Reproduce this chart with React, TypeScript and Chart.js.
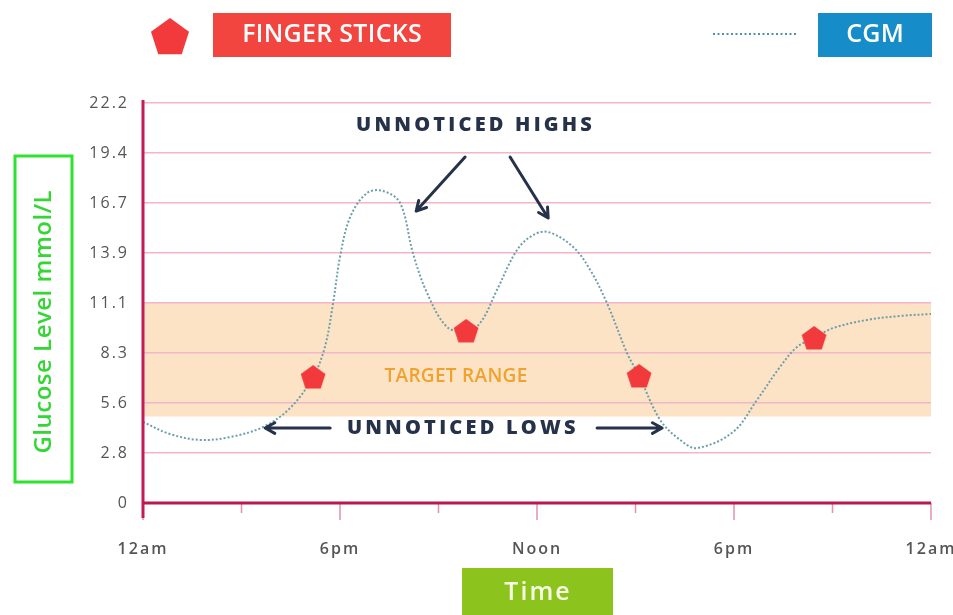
import React, { useEffect, useRef } from 'react';
import { Chart, registerables } from 'chart.js';

Chart.register(...registerables);

// ---- data ----
const cgmHours = [0, 0.82, 1.74, 2.65, 3.66, 4.48, 5.18, 5.54, 5.79, 6.0, 6.31, 6.82, 7.31, 7.83, 8.22, 8.65, 9.26, 9.84, 10.27, 10.78, 11.39, 11.88, 12.34, 13.1, 13.62, 14.13, 14.74, 15.11, 15.75, 16.36, 16.87, 17.97, 18.7, 19.4, 19.92, 20.44, 21.02, 22.05, 23.06, 24];
const cgmValues = [4.5, 3.83, 3.5, 3.66, 4.22, 5.27, 6.99, 8.66, 11.1, 13.65, 15.87, 17.2, 17.32, 16.65, 13.88, 11.66, 9.77, 9.55, 9.99, 11.82, 14.04, 14.87, 15.04, 14.21, 12.93, 11.1, 8.33, 7.05, 4.61, 3.5, 3.05, 3.94, 5.72, 7.55, 8.66, 9.16, 9.71, 10.16, 10.38, 10.49];
const fingerHours = [5.18, 9.84, 15.11, 20.44];
const fingerValues = [6.99, 9.55, 7.05, 9.16];
const yTickLabels = ['0', '2.8', '5.6', '8.3', '11.1', '13.9', '16.7', '19.4', '22.2'];
const xTickLabels = ['12am', '', '6pm', '', 'Noon', '', '6pm', '', '12am'];
const targetRange = [4.8, 11.1];
const legendLabels = ['FINGER STICKS', 'CGM'];
const yTitle = 'Glucose Level mmol/L';
const xTitle = 'Time';
const highsLabel = 'UNNOTICED HIGHS';
const lowsLabel = 'UNNOTICED LOWS';
const rangeLabel = 'TARGET RANGE';

const FONT = '"Open Sans", "DejaVu Sans", sans-serif';
const NAVY = '#263249';

function pentagon(ctx: CanvasRenderingContext2D, cx: number, cy: number, r: number, color: string) {
  ctx.beginPath();
  for (let i = 0; i < 5; i++) {
    const a = -Math.PI / 2 + (i * 2 * Math.PI) / 5;
    const x = cx + r * Math.cos(a);
    const y = cy + r * Math.sin(a);
    if (i === 0) ctx.moveTo(x, y);
    else ctx.lineTo(x, y);
  }
  ctx.closePath();
  ctx.fillStyle = color;
  ctx.fill();
}

function arrow(ctx: CanvasRenderingContext2D, x1: number, y1: number, x2: number, y2: number) {
  ctx.save();
  ctx.strokeStyle = NAVY;
  ctx.lineWidth = 3;
  ctx.lineCap = 'round';
  ctx.lineJoin = 'round';
  ctx.beginPath();
  ctx.moveTo(x1, y1);
  ctx.lineTo(x2, y2);
  const ang = Math.atan2(y2 - y1, x2 - x1);
  const L = 11;
  ctx.moveTo(x2 - L * Math.cos(ang - 0.5), y2 - L * Math.sin(ang - 0.5));
  ctx.lineTo(x2, y2);
  ctx.lineTo(x2 - L * Math.cos(ang + 0.5), y2 - L * Math.sin(ang + 0.5));
  ctx.stroke();
  ctx.restore();
}

function spacedText(ctx: any, text: string, x: number, y: number, font: string, color: string, spacing: number, align: CanvasTextAlign = 'center') {
  ctx.save();
  ctx.font = font;
  ctx.fillStyle = color;
  ctx.textAlign = align;
  ctx.textBaseline = 'middle';
  if ('letterSpacing' in ctx) ctx.letterSpacing = spacing + 'px';
  ctx.fillText(text, x + (align === 'center' ? spacing / 2 : 0), y);
  ctx.restore();
}

export default function App() {
  const ref = useRef<HTMLCanvasElement | null>(null);

  useEffect(() => {
    const canvas = ref.current;
    if (!canvas) return;

    const marker = document.createElement('canvas');
    marker.width = 28;
    marker.height = 28;
    const mctx = marker.getContext('2d')!;
    pentagon(mctx, 14, 15, 13, '#f23a3c');

    const decor = {
      id: 'decor',
      beforeDraw(chart: any) {
        const { ctx } = chart;
        const x = chart.scales.x;
        const y = chart.scales.y;
        ctx.save();
        ctx.fillStyle = '#ffffff';
        ctx.fillRect(0, 0, chart.width, chart.height);
        const top = y.getPixelForValue(targetRange[1]);
        const bot = y.getPixelForValue(targetRange[0]);
        ctx.fillStyle = '#fde3c5';
        ctx.fillRect(x.left, top, x.right - x.left, bot - top);
        ctx.restore();
        if ('letterSpacing' in ctx) ctx.letterSpacing = '2px';
      },
      afterDraw(chart: any) {
        const { ctx } = chart;
        if ('letterSpacing' in ctx) ctx.letterSpacing = '0px';
        const x = chart.scales.x;
        const y = chart.scales.y;
        const X = (v: number) => x.getPixelForValue(v);
        const Y = (v: number) => y.getPixelForValue(v);

        // x tick marks
        ctx.save();
        ctx.strokeStyle = '#e58fae';
        ctx.lineWidth = 1.5;
        x.ticks.forEach((_t: any, i: number) => {
          const px = x.getPixelForTick(i);
          const len = xTickLabels[i] ? 17 : 10;
          ctx.beginPath();
          ctx.moveTo(px, y.bottom);
          ctx.lineTo(px, y.bottom + len);
          ctx.stroke();
        });
        ctx.restore();

        // axes
        ctx.save();
        ctx.strokeStyle = '#c41a58';
        ctx.lineWidth = 3;
        ctx.beginPath();
        ctx.moveTo(x.left, y.top - 3);
        ctx.lineTo(x.left, y.bottom + 15);
        ctx.stroke();
        ctx.strokeStyle = '#b8184f';
        ctx.beginPath();
        ctx.moveTo(x.left, y.bottom);
        ctx.lineTo(x.right, y.bottom);
        ctx.stroke();
        ctx.restore();

        // annotations
        spacedText(ctx, highsLabel, X(10.08), Y(20.98), `800 20px ${FONT}`, NAVY, 3.2);
        arrow(ctx, X(9.81), Y(19.2), X(8.32), Y(16.2));
        arrow(ctx, X(11.18), Y(19.2), X(12.34), Y(15.82));
        spacedText(ctx, lowsLabel, X(9.69), Y(4.16), `800 20px ${FONT}`, NAVY, 3.2);
        arrow(ctx, X(5.7), Y(4.16), X(3.72), Y(4.16));
        arrow(ctx, X(13.83), Y(4.16), X(15.81), Y(4.16));
        spacedText(ctx, rangeLabel, X(9.53), Y(6.99), `600 19px ${FONT}`, '#f0a22e', 0.3);

        // legend
        ctx.save();
        pentagon(ctx, 170, 38, 20, '#f23a3c');
        ctx.fillStyle = '#f2453f';
        ctx.fillRect(213, 13, 238, 44);
        ctx.restore();
        spacedText(ctx, legendLabels[0], 332, 35, `600 25px ${FONT}`, '#ffffff', 0.3);
        ctx.save();
        ctx.strokeStyle = '#4f8fb5';
        ctx.lineWidth = 2;
        ctx.setLineDash([2, 2.5]);
        ctx.beginPath();
        ctx.moveTo(713, 34);
        ctx.lineTo(797, 34);
        ctx.stroke();
        ctx.setLineDash([]);
        ctx.fillStyle = '#168dc9';
        ctx.fillRect(818, 13, 114, 44);
        ctx.restore();
        spacedText(ctx, legendLabels[1], 875, 35, `600 25px ${FONT}`, '#ffffff', 0.3);

        // y title box
        ctx.save();
        ctx.strokeStyle = '#2fe22f';
        ctx.lineWidth = 3;
        ctx.strokeRect(15, 156, 57, 326);
        ctx.restore();
        ctx.save();
        ctx.translate(44, 322);
        ctx.rotate(-Math.PI / 2);
        spacedText(ctx, yTitle, 0, 0, `600 24px ${FONT}`, '#33d633', 0.5);
        ctx.restore();

        // x title box
        ctx.save();
        ctx.fillStyle = '#8cc31c';
        ctx.fillRect(462, 568, 151, 50);
        ctx.restore();
        spacedText(ctx, xTitle, 537, 593, `600 25px ${FONT}`, '#f6ffe6', 2);
      },
    };

    const chart = new Chart(canvas, {
      type: 'scatter',
      data: {
        datasets: [
          {
            label: 'CGM',
            data: cgmHours.map((h, i) => ({ x: h, y: cgmValues[i] })),
            showLine: true,
            borderColor: '#6c9fab',
            borderWidth: 2,
            borderDash: [2, 2],
            pointRadius: 0,
            tension: 0.35,
            order: 2,
          },
          {
            label: 'FINGER STICKS',
            data: fingerHours.map((h, i) => ({ x: h, y: fingerValues[i] })),
            showLine: false,
            pointStyle: marker as any,
            pointRadius: 13,
            order: 1,
          },
        ],
      },
      options: {
        animation: false,
        responsive: false,
        events: [],
        layout: { padding: { top: 103, right: 22, bottom: 0, left: 0 } },
        plugins: { legend: { display: false }, tooltip: { enabled: false }, title: { display: false } },
        scales: {
          x: {
            type: 'linear',
            min: 0,
            max: 24,
            afterFit: (s: any) => {
              s.height = 112;
              s.paddingLeft = 0;
              s.paddingRight = 0;
            },
            grid: { display: false },
            border: { display: false },
            ticks: {
              stepSize: 3,
              autoSkip: false,
              maxRotation: 0,
              padding: 29,
              color: '#555555',
              font: { family: FONT, size: 16, weight: '600' },
              callback: (_v: any, i: number) => xTickLabels[i],
            },
          },
          y: {
            type: 'linear',
            min: 0,
            max: 22.2,
            afterFit: (s: any) => {
              s.width = 143;
            },
            grid: { color: '#f2b6c8', lineWidth: 1.5, drawTicks: false },
            border: { display: false },
            ticks: {
              stepSize: 2.775,
              padding: 14,
              color: '#555555',
              font: { family: FONT, size: 16 },
              callback: (_v: any, i: number) => yTickLabels[i],
            },
          },
        },
      },
      plugins: [decor],
    } as any);

    return () => chart.destroy();
  }, []);

  return (
    <div style={{ position: 'absolute', left: 0, top: 0, width: 953, height: 615, background: '#fff' }}>
      <canvas ref={ref} width={953} height={615} style={{ width: 953, height: 615, display: 'block' }} />
    </div>
  );
}
